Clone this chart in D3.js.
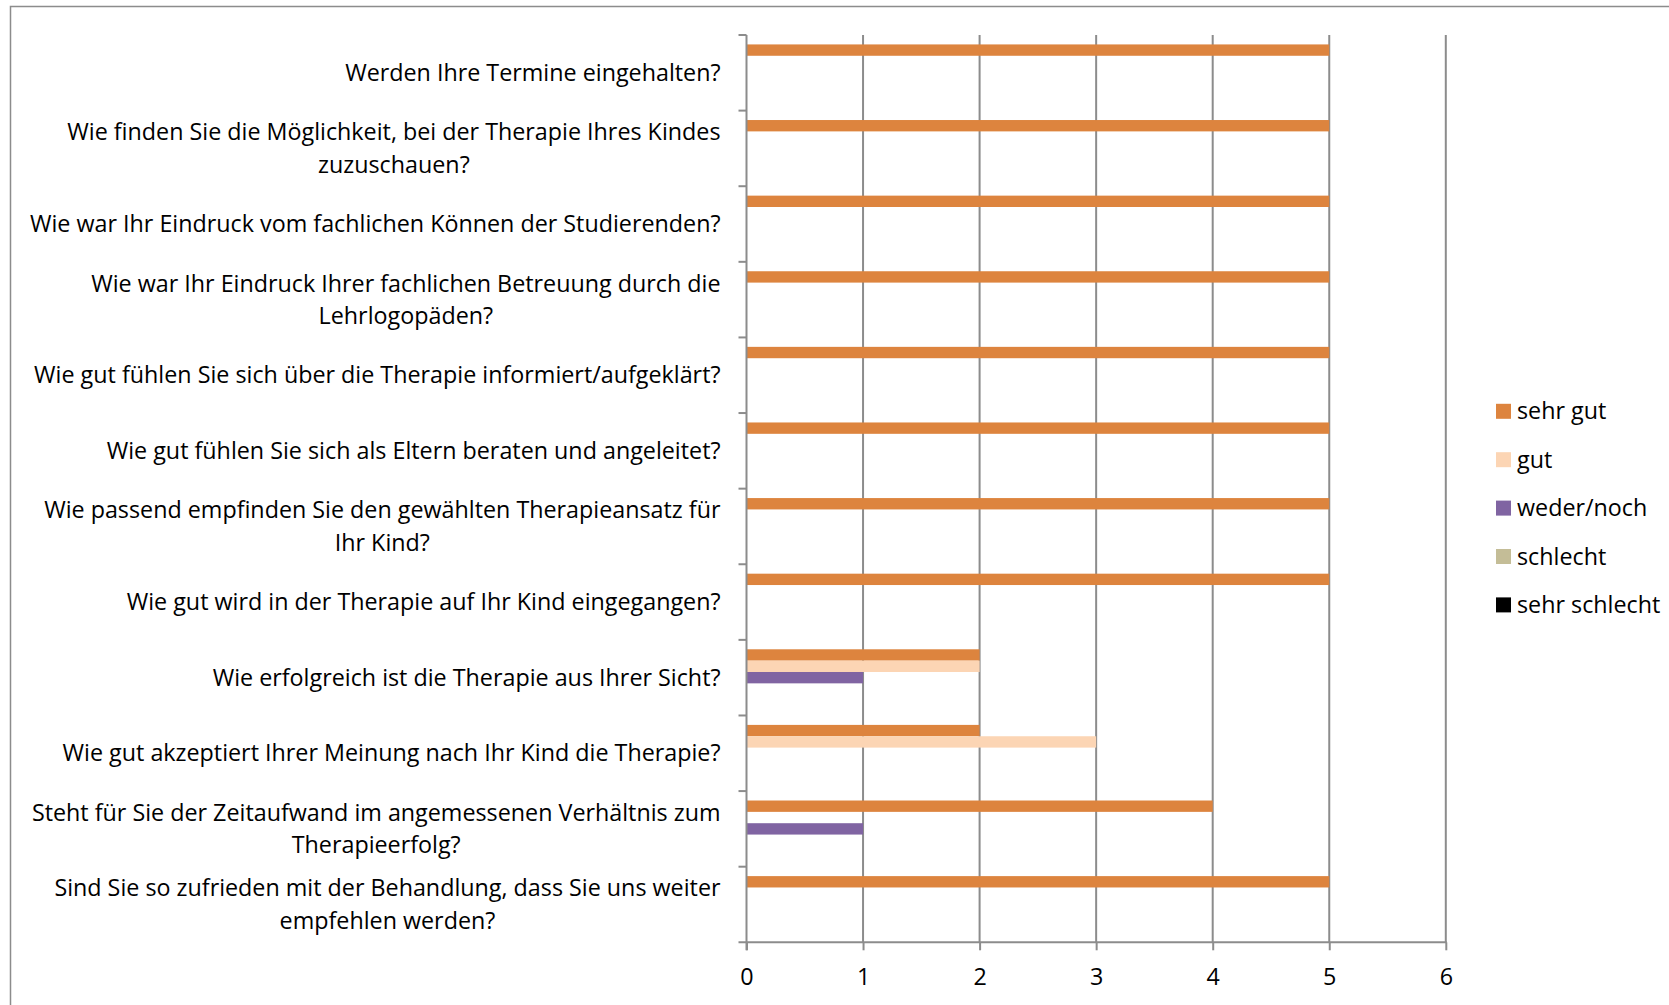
<!DOCTYPE html>
<html>
<head>
<meta charset="utf-8">
<script src="https://d3js.org/d3.v7.min.js"></script>
<style>
  body { margin: 0; background: #fff; }
  text { font-family: "Open Sans", sans-serif; fill: #000; }
</style>
</head>
<body>
<div id="chart"></div>
<script>
// questions, top to bottom (line breaks as in the picture)
var questions = [
  "Werden Ihre Termine eingehalten?",
  "Wie finden Sie die Möglichkeit, bei der Therapie Ihres Kindes\nzuzuschauen?",
  "Wie war Ihr Eindruck vom fachlichen Können der Studierenden?",
  "Wie war Ihr Eindruck Ihrer fachlichen Betreuung durch die\nLehrlogopäden?",
  "Wie gut fühlen Sie sich über die Therapie informiert/aufgeklärt?",
  "Wie gut fühlen Sie sich als Eltern beraten und angeleitet?",
  "Wie passend empfinden Sie den gewählten Therapieansatz für\nIhr Kind?",
  "Wie gut wird in der Therapie auf Ihr Kind eingegangen?",
  "Wie erfolgreich ist die Therapie aus Ihrer Sicht?",
  "Wie gut akzeptiert Ihrer Meinung nach Ihr Kind die Therapie?",
  "Steht für Sie der Zeitaufwand im angemessenen Verhältnis zum\nTherapieerfolg?",
  "Sind Sie so zufrieden mit der Behandlung, dass Sie uns weiter\nempfehlen werden?"
];

var seriesNames = ["sehr gut", "gut", "weder/noch", "schlecht", "sehr schlecht"];
var seriesColors = ["#dd843e", "#fcd5b4", "#8064a2", "#c4bd97", "#000000"];

var sehrGut     = [5, 5, 5, 5, 5, 5, 5, 5, 2, 2, 4, 5];
var gut         = [0, 0, 0, 0, 0, 0, 0, 0, 2, 3, 0, 0];
var wederNoch   = [0, 0, 0, 0, 0, 0, 0, 0, 1, 0, 1, 0];
var schlecht    = [0, 0, 0, 0, 0, 0, 0, 0, 0, 0, 0, 0];
var sehrSchlecht = [0, 0, 0, 0, 0, 0, 0, 0, 0, 0, 0, 0];

var xTicks = [0, 1, 2, 3, 4, 5, 6];

var allSeries = [sehrGut, gut, wederNoch, schlecht, sehrSchlecht];

var svgWidth = 1669;
var svgHeight = 1005;
var fontSize = "23.3px";

var plot = { left: 746.5, right: 1445.8, top: 35, bottom: 942.3 };

var svg = d3.select("#chart")
  .append("svg")
  .attr("width", svgWidth)
  .attr("height", svgHeight);

// outer frame
svg.append("rect")
  .attr("x", 10.5)
  .attr("y", 6.5)
  .attr("width", 1800)
  .attr("height", 1200)
  .attr("fill", "none")
  .attr("stroke", "#8c8c8c")
  .attr("stroke-width", 1.5);

var xScale = d3.scaleLinear()
  .domain([0, 6])
  .range([plot.left, plot.right]);

var yScale = d3.scaleBand()
  .domain(questions)
  .range([plot.top, plot.bottom]);

var inner = d3.scaleBand()
  .domain(seriesNames)
  .range([0, yScale.bandwidth()])
  .paddingOuter(0.83);

// vertical gridlines
svg.append("g")
  .selectAll("line")
  .data(xTicks.slice(1))
  .enter()
  .append("line")
  .attr("x1", d => xScale(d))
  .attr("x2", d => xScale(d))
  .attr("y1", plot.top)
  .attr("y2", plot.bottom)
  .attr("stroke", "#8c8c8c")
  .attr("stroke-width", 2);

// bars
var rows = [];
questions.forEach(function(q, i) {
  seriesNames.forEach(function(s, j) {
    rows.push({ q: q, s: s, v: allSeries[j][i], c: seriesColors[j] });
  });
});

svg.append("g")
  .selectAll("rect")
  .data(rows.filter(d => d.v > 0))
  .enter()
  .append("rect")
  .attr("x", xScale(0))
  .attr("y", d => yScale(d.q) + inner(d.s))
  .attr("width", d => xScale(d.v) - xScale(0))
  .attr("height", inner.bandwidth())
  .attr("fill", d => d.c);

// x axis
var xAxis = d3.axisBottom(xScale)
  .tickValues(xTicks)
  .tickFormat(d3.format("d"))
  .tickSize(8)
  .tickPadding(18)
  .tickSizeOuter(0);

var gx = svg.append("g")
  .attr("transform", `translate(0, ${plot.bottom})`)
  .call(xAxis);
gx.select(".domain").remove();
gx.selectAll("line").attr("stroke", "#8c8c8c").attr("stroke-width", 2);
gx.selectAll("text").attr("font-size", fontSize).attr("font-family", "Open Sans");

svg.append("line")
  .attr("x1", plot.left - 8)
  .attr("x2", plot.right + 1)
  .attr("y1", plot.bottom)
  .attr("y2", plot.bottom)
  .attr("stroke", "#8c8c8c")
  .attr("stroke-width", 2);

// y axis line + ticks at category boundaries
svg.append("line")
  .attr("x1", plot.left)
  .attr("x2", plot.left)
  .attr("y1", plot.top)
  .attr("y2", plot.bottom + 8)
  .attr("stroke", "#8c8c8c")
  .attr("stroke-width", 2);

var bounds = questions.map(q => yScale(q));
svg.append("g")
  .selectAll("line")
  .data(bounds)
  .enter()
  .append("line")
  .attr("x1", plot.left - 8)
  .attr("x2", plot.left)
  .attr("y1", d => d)
  .attr("y2", d => d)
  .attr("stroke", "#8c8c8c")
  .attr("stroke-width", 2);

// question labels: block right aligned, lines centered
var labelRight = 720.5;
var lineH = 32.5;
questions.forEach(function(q) {
  var lines = q.split("\n");
  var g = svg.append("g");
  var cy = yScale(q) + yScale.bandwidth() / 2;
  var texts = lines.map(function(l, k) {
    return g.append("text")
      .attr("y", cy + (k - (lines.length - 1) / 2) * lineH)
      .attr("dy", "0.35em")
      .attr("font-size", fontSize)
      .attr("text-anchor", "middle")
      .text(l);
  });
  var w = d3.max(texts, t => t.node().getComputedTextLength());
  texts.forEach(t => t.attr("x", labelRight - w / 2));
});

// legend
var legend = svg.append("g")
  .selectAll("g")
  .data(seriesNames)
  .enter()
  .append("g")
  .attr("transform", (d, i) => `translate(1496, ${411.3 + i * 48.4})`);

legend.append("rect")
  .attr("x", 0)
  .attr("y", -7.5)
  .attr("width", 15)
  .attr("height", 15)
  .attr("fill", (d, i) => seriesColors[i]);

legend.append("text")
  .attr("x", 21)
  .attr("dy", "0.35em")
  .attr("font-size", fontSize)
  .text(d => d);
</script>
</body>
</html>
